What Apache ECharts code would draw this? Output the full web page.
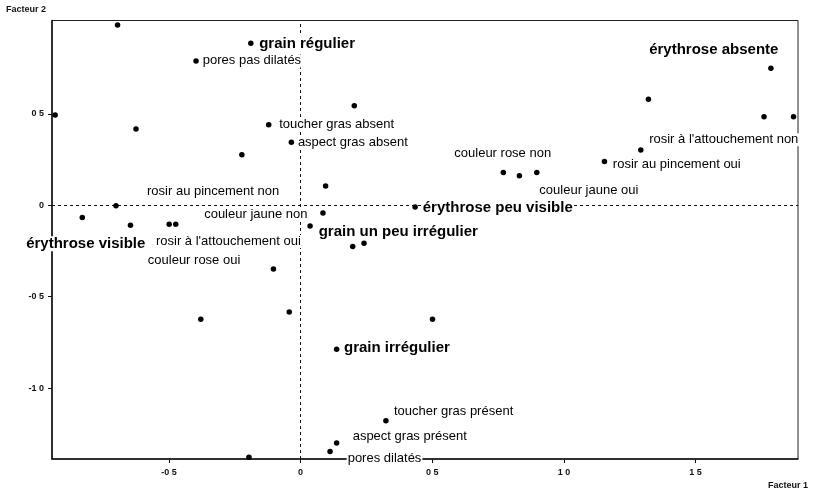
<!DOCTYPE html>
<html>
<head>
<meta charset="utf-8">
<script src="https://cdn.jsdelivr.net/npm/echarts@6/dist/echarts.min.js"></script>
<style>
  html, body { margin: 0; padding: 0; background: #fff; }
  #chart { width: 818px; height: 496px; }
</style>
</head>
<body>
<div id="chart"></div>
<script>
// Coordinates of every plotted point on the first two factors
const dotX = [-0.695, -0.189, -0.397, -0.932, -0.625, 0.204, -0.121, -0.035, -0.223, 0.095,
              -0.701, -0.829, -0.646, -0.499, -0.474, 0.085, 0.036, 0.435, 0.198, 0.241,
              -0.103, -0.043, -0.379, 0.501, 0.137, 0.324, 0.137, 0.112, -0.196, 0.770,
              0.831, 0.897, 1.154, 1.292, 1.321, 1.786, 1.760, 1.872];
const dotY = [0.986, 0.886, 0.789, 0.494, 0.418, 0.545, 0.440, 0.345, 0.276, 0.106,
              -0.002, -0.067, -0.109, -0.104, -0.104, -0.042, -0.113, -0.009, -0.226, -0.208,
              -0.349, -0.584, -0.623, -0.623, -0.787, -1.179, -1.301, -1.347, -1.379, 0.179,
              0.162, 0.179, 0.239, 0.303, 0.580, 0.750, 0.485, 0.485];

// Active modalities (bold): text and anchor (left edge of the text)
const activeNames = ['érythrose absente', 'érythrose peu visible', 'érythrose visible',
                     'grain régulier', 'grain un peu irrégulier', 'grain irrégulier'];
const activeX = [1.320, 0.460, -1.046, -0.161, 0.065, 0.161];
const activeY = [0.850, -0.014, -0.211, 0.885, -0.144, -0.780];

// Supplementary modalities: text and anchor (left edge of the text)
const suppNames = ['pores pas dilatés', 'toucher gras absent', 'aspect gras absent',
                   'rosir au pincement non', 'couleur jaune non', "rosir à l'attouchement oui",
                   'couleur rose oui', 'couleur rose non', 'couleur jaune oui',
                   'rosir au pincement oui', "rosir à l'attouchement non",
                   'toucher gras présent', 'aspect gras présent', 'pores dilatés'];
const suppX = [-0.375, -0.085, -0.014, -0.587, -0.370, -0.553, -0.584, 0.580, 0.903,
               1.182, 1.320, 0.351, 0.194, 0.175];
const suppY = [0.790, 0.440, 0.345, 0.075, -0.052, -0.198, -0.304, 0.285, 0.079,
               0.225, 0.358, -1.128, -1.265, -1.383];

// Axis extents and tick values
const xRange = [-0.944, 1.889];
const yRange = [-1.388, 1.011];
const xTicks = [-0.5, 0, 0.5, 1.0, 1.5];
const yTicks = [-1.0, -0.5, 0, 0.5];

const FONT = "'Liberation Sans', Arial, sans-serif";
const fmtTick = v => (Math.abs(v) < 1e-9 ? '0' : v.toFixed(1).replace('.', ' '));

function textSeries(names, xs, ys, size, weight) {
  return {
    type: 'scatter',
    symbolSize: 0,
    clip: false,
    silent: true,
    z: 4,
    itemStyle: { opacity: 1 },
    data: names.map((n, i) => ({ value: [xs[i], ys[i]], name: n })),
    label: {
      show: true,
      position: 'right',
      distance: 0,
      formatter: p => p.name,
      color: '#000',
      backgroundColor: '#fff',
      padding: [0, 1, 0, 1],
      fontFamily: FONT,
      fontSize: size,
      fontWeight: weight
    }
  };
}

const chart = echarts.init(document.getElementById('chart'), null, { renderer: 'canvas' });
chart.setOption({
  animation: false,
  backgroundColor: '#fff',
  grid: {
    left: 52, right: 20, top: 20.5, bottom: 37,
    show: true, borderColor: '#222', borderWidth: 1, backgroundColor: 'transparent'
  },
  xAxis: {
    type: 'value',
    min: xRange[0], max: xRange[1],
    splitLine: { show: false },
    axisLine: { show: true, onZero: false, lineStyle: { color: '#111', width: 1.5 } },
    axisTick: { show: true, customValues: xTicks, length: 4, inside: false, lineStyle: { color: '#111' } },
    axisLabel: {
      customValues: xTicks, formatter: fmtTick, margin: 9,
      color: '#111', fontFamily: FONT, fontSize: 9, fontWeight: 'bold'
    }
  },
  yAxis: {
    type: 'value',
    min: yRange[0], max: yRange[1],
    splitLine: { show: false },
    axisLine: { show: true, onZero: false, lineStyle: { color: '#111', width: 1.5 } },
    axisTick: { show: true, customValues: yTicks, length: 4, inside: false, lineStyle: { color: '#111' } },
    axisLabel: {
      customValues: yTicks, formatter: fmtTick, margin: 8,
      color: '#111', fontFamily: FONT, fontSize: 9, fontWeight: 'bold'
    }
  },
  graphic: [
    { type: 'text', left: 6, top: 5,
      style: { text: 'Facteur 2', fill: '#111', font: 'bold 9px ' + FONT } },
    { type: 'text', left: 768, top: 481,
      style: { text: 'Facteur 1', fill: '#111', font: 'bold 9px ' + FONT } }
  ],
  series: [
    // dashed reference lines through the origin
    {
      type: 'scatter',
      data: [],
      z: 1,
      markLine: {
        silent: true,
        z: 1,
        symbol: ['none', 'none'],
        label: { show: false },
        lineStyle: { color: '#111', type: [3, 3], width: 1, opacity: 1 },
        data: [{ xAxis: 0 }, { yAxis: 0 }]
      }
    },
    textSeries(activeNames, activeX, activeY, 15, 'bold'),
    textSeries(suppNames, suppX, suppY, 13, 'normal'),
    {
      type: 'scatter',
      symbol: 'circle',
      symbolSize: 5.5,
      itemStyle: { color: '#000', opacity: 1 },
      z: 5,
      data: dotX.map((x, i) => [x, dotY[i]])
    }
  ]
});
</script>
</body>
</html>
